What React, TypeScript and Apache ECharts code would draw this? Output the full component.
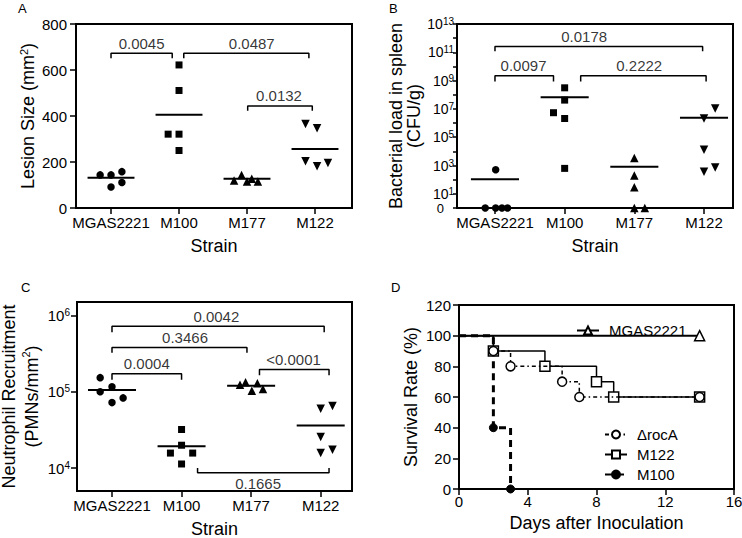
import React, { useEffect, useRef } from "react";
import * as echarts from "echarts";

const FONT = "'Liberation Sans', Arial, Helvetica, sans-serif";

// ---------- shared categories ----------
const STRAINS = ["MGAS2221", "M100", "M177", "M122"];

// ---------- Panel A: lesion size (mm²) ----------
const lesionValues = [
  [144, 144, 158, 91, 111],
  [622, 511, 321, 321, 250],
  [120, 144, 115, 127, 115],
  [365, 347, 203, 181, 196],
];
const lesionJitter = [
  [-0.16, 0, 0.16, 0, 0.16],
  [0, 0, -0.16, 0, 0],
  [-0.19, -0.08, 0, 0.07, 0.16],
  [-0.14, 0.03, -0.14, 0.03, 0.19],
];
const lesionMeans = [131, 405, 127, 256];
const lesionTicks = [0, 200, 400, 600, 800];
// [p-value, from, to, bracket y, tip y, label x]
const lesionComparisons: [string, number, number, number, number, number][] = [
  ["0.0045", 0, 0.9, 673, 651, 0.45],
  ["0.0487", 1.07, 2.91, 673, 651, 2.07],
  ["0.0132", 2.01, 2.96, 444, 423, 2.47],
];

// ---------- Panel B: bacterial load in spleen (CFU/g), 0 = below detection ----------
const spleenValues = [
  [510, 0, 0, 0, 0],
  [3.1e8, 4.2e7, 5.4e6, 2.1e6, 630],
  [3400, 195, 29, 0, 0],
  [1.05e7, 2.1e6, 13000, 740, 370],
];
const spleenJitter = [
  [0.01, -0.14, 0.01, 0.1, 0.18],
  [0, 0, -0.16, 0, 0],
  [0, 0, 0, 0, 0.15],
  [0.16, 0, 0, 0.16, 0],
];
const spleenMeans = [107, 6.7e7, 830, 2.4e6];
const spleenTickExponents = [0, 1, 2, 3, 4, 5, 6, 7, 8, 9, 10, 11, 12, 13];
const spleenLabelExponents = [1, 3, 5, 7, 9, 11, 13];
const spleenZeroLabel = [1]; // axis floor, labelled "0"
const spleenComparisons: [string, number, number, number, number, number][] = [
  ["0.0178", 0, 2.98, 2.6e11, 1.2e11, 1.28],
  ["0.0097", 0, 0.84, 2.2e9, 8.5e8, 0.41],
  ["0.2222", 1.23, 3.03, 2.2e9, 8.5e8, 2.07],
];

// ---------- Panel C: neutrophil recruitment (PMNs/mm²) ----------
const pmnValues = [
  [1.53e5, 1.16e5, 1.0e5, 7.2e4, 8.3e4],
  [3.2e4, 1.99e4, 1.57e4, 1.57e4, 1.13e4],
  [1.23e5, 1.33e5, 1.03e5, 1.29e5, 1.09e5],
  [6.0e4, 6.5e4, 2.56e4, 1.57e4, 1.74e4],
];
const pmnJitter = [
  [-0.17, 0, -0.17, 0, 0.16],
  [0, 0, -0.16, 0.16, 0],
  [-0.16, -0.08, 0.01, 0.09, 0.17],
  [0, 0.17, 0, 0, 0.17],
];
const pmnMeans = [1.05e5, 1.93e4, 1.2e5, 3.6e4];
const pmnTicks = [1e4, 1e5, 1e6];
const pmnComparisons: [string, number, number, number, number, number][] = [
  ["0.0042", 0, 3.05, 7.2e5, 6.0e5, 1.5],
  ["0.3466", 0, 1.94, 3.8e5, 3.25e5, 1.05],
  ["0.0004", 0, 1.0, 1.72e5, 1.44e5, 0.5],
  ["<0.0001", 2.12, 3.12, 1.95e5, 1.65e5, 2.61],
  ["0.1665", 1.23, 3.12, 8.7e3, 1.0e4, 2.1],
];

// ---------- Panel D: survival (%) vs days ----------
const survivalMGAS2221 = [[0, 100], [14, 100]];
const survivalRocA = [[0, 100], [2, 90], [3, 80], [6, 70], [7, 60], [14, 60]];
const survivalM122 = [[0, 100], [2, 90], [5, 80], [8, 70], [9, 60], [14, 60]];
const survivalM100 = [[0, 100], [2, 40], [3, 0]];
const dayTicks = [0, 4, 8, 12, 16];
const survivalTicks = [0, 20, 40, 60, 80, 100, 120];

// ---------- styling ----------
const MARKERS = ["circle", "rect", "triangle", "triangle"];
const MARKER_SIZE = [7.5, 7, 8.5, 8.5];
const MEAN_HALF = 0.345;
const BLACK = "#000";

function supLabel(e: number) {
  return `{b|10}{s|${e}}`;
}

function groupSeries(grid: number, values: number[][], jitter: number[][], means: number[], floor: number | null) {
  const out: any[] = [];
  values.forEach((vals, g) => {
    out.push({
      type: "line",
      xAxisIndex: grid,
      yAxisIndex: grid,
      symbol: "none",
      silent: true,
      z: 2,
      lineStyle: { color: BLACK, width: 2 },
      data: [[g - MEAN_HALF, means[g]], [g + MEAN_HALF, means[g]]],
    });
    out.push({
      type: "scatter",
      xAxisIndex: grid,
      yAxisIndex: grid,
      symbol: MARKERS[g],
      symbolRotate: g === 3 ? 180 : 0,
      symbolSize: MARKER_SIZE[g],
      itemStyle: { color: BLACK, opacity: 1 },
      z: 3,
      data: vals.map((v, k) => [g + jitter[g][k], floor !== null && v <= 0 ? floor : v]),
    });
  });
  return out;
}

function bracketSeries(grid: number, comps: [string, number, number, number, number, number][], below = -1) {
  const out: any[] = [];
  comps.forEach(([p, x1, x2, y, tip, lx], i) => {
    out.push({
      type: "line",
      xAxisIndex: grid,
      yAxisIndex: grid,
      symbol: "none",
      silent: true,
      z: 2,
      lineStyle: { color: BLACK, width: 1.5 },
      data: [[x1, tip], [x1, y], [x2, y], [x2, tip]],
    });
    out.push({
      type: "scatter",
      xAxisIndex: grid,
      yAxisIndex: grid,
      symbolSize: 1,
      silent: true,
      itemStyle: { color: "transparent" },
      label: {
        show: true,
        position: i === below ? "bottom" : "top",
        distance: i === below ? 3 : 2,
        formatter: p,
        color: BLACK,
        fontSize: 15,
        fontFamily: FONT,
      },
      data: [[lx, y]],
    });
  });
  return out;
}

const axisLine = { show: true, onZero: false, lineStyle: { color: BLACK, width: 2 } };
const tickStyle = { color: BLACK, width: 1.5 };
const nameStyle = {
  color: BLACK,
  fontSize: 18,
  fontFamily: FONT,
  lineHeight: 20,
  rich: {
    s: { fontSize: 11, fontFamily: FONT, color: BLACK, verticalAlign: "top", lineHeight: 12 },
  },
};
const labelRich = {
  b: { fontSize: 15, fontFamily: FONT, color: BLACK, lineHeight: 16 },
  s: { fontSize: 10, fontFamily: FONT, color: BLACK, verticalAlign: "top", lineHeight: 8 },
};
const spleenLabelRich = {
  b: { fontSize: 14, fontFamily: FONT, color: BLACK, lineHeight: 15 },
  s: { fontSize: 10, fontFamily: FONT, color: BLACK, verticalAlign: "top", lineHeight: 7 },
};

function strainXAxis(grid: number, min: number, max: number, nameGap: number) {
  return {
    type: "value",
    gridIndex: grid,
    min,
    max,
    axisLine,
    splitLine: { show: false },
    axisTick: { show: true, length: 6, lineStyle: tickStyle, customValues: [0, 1, 2, 3] },
    axisLabel: {
      customValues: [0, 1, 2, 3],
      formatter: (v: number) => STRAINS[Math.round(v)] ?? "",
      color: BLACK,
      fontSize: 15,
      fontFamily: FONT,
      margin: 7,
      hideOverlap: false,
    },
    name: "Strain",
    nameLocation: "middle",
    nameGap,
    nameTextStyle: nameStyle,
  };
}

export default function App() {
  const ref = useRef<HTMLDivElement>(null);
  useEffect(() => {
    if (!ref.current) return;
    const chart = echarts.init(ref.current, undefined, { renderer: "svg" });
    const gridCommon = { show: true, borderColor: BLACK, borderWidth: 2, backgroundColor: "transparent", containLabel: false, outerBoundsMode: "none" };
    const option: any = {
      animation: false,
      backgroundColor: "#fff",
      textStyle: { fontFamily: FONT },
      grid: [
        { ...gridCommon, left: 76, right: 390, top: 24, bottom: 330 },
        { ...gridCommon, left: 457, right: 9, top: 24, bottom: 330 },
        { ...gridCommon, left: 77, right: 390, top: 302, bottom: 47 },
        { ...gridCommon, left: 459, right: 8, top: 305, bottom: 49 },
      ],
      xAxis: [
        strainXAxis(0, -0.515, 3.544, 28),
        strainXAxis(1, -0.545, 3.416, 28),
        strainXAxis(2, -0.503, 3.45, 28),
        {
          type: "value",
          gridIndex: 3,
          min: 0,
          max: 16,
          interval: 4,
          axisLine,
          splitLine: { show: false },
          axisTick: { show: true, length: 6, lineStyle: tickStyle, customValues: dayTicks },
          axisLabel: { customValues: dayTicks, color: BLACK, fontSize: 15, fontFamily: FONT, margin: 5, hideOverlap: false },
          name: "Days after Inoculation",
          nameLocation: "middle",
          nameGap: 24,
          nameTextStyle: nameStyle,
        },
      ],
      yAxis: [
        {
          type: "value",
          gridIndex: 0,
          min: 0,
          max: 800,
          interval: 200,
          axisLine,
          splitLine: { show: false },
          axisTick: { show: true, length: 6, lineStyle: tickStyle, customValues: lesionTicks },
          axisLabel: { customValues: lesionTicks, color: BLACK, fontSize: 15, fontFamily: FONT, margin: 9, hideOverlap: false },
          name: "Lesion Size (mm{s|2})",
          nameLocation: "middle",
          nameRotate: 90,
          nameGap: 36,
          nameTextStyle: nameStyle,
        },
        {
          type: "log",
          logBase: 10,
          gridIndex: 1,
          min: 1,
          max: 1e13,
          axisLine,
          splitLine: { show: false },
          axisTick: { show: true, length: 4, lineStyle: tickStyle, customValues: spleenTickExponents.map((e) => Math.pow(10, e)) },
          axisLabel: {
            customValues: spleenLabelExponents.map((e) => Math.pow(10, e)),
            formatter: (v: number) => supLabel(Math.round(Math.log10(v))),
            color: BLACK,
            fontSize: 14,
            fontFamily: FONT,
            margin: 3,
            rich: spleenLabelRich,
            hideOverlap: false,
          },
          name: "Bacterial load in spleen\n(CFU/g)",
          nameLocation: "middle",
          nameRotate: 90,
          nameGap: 30,
          nameTextStyle: { ...nameStyle, lineHeight: 18 },
        },
        {
          type: "log",
          logBase: 10,
          gridIndex: 2,
          min: 5000,
          max: 1.5e6,
          axisLine,
          splitLine: { show: false },
          axisTick: { show: true, length: 6, lineStyle: tickStyle, customValues: pmnTicks },
          axisLabel: {
            customValues: pmnTicks,
            formatter: (v: number) => supLabel(Math.round(Math.log10(v))),
            color: BLACK,
            fontSize: 15,
            fontFamily: FONT,
            margin: 7,
            rich: labelRich,
            hideOverlap: false,
          },
          name: "Neutrophil Recruitment\n(PMNs/mm{s|2})",
          nameLocation: "middle",
          nameRotate: 90,
          nameGap: 32,
          nameTextStyle: { ...nameStyle, lineHeight: 23 },
        },
        {
          type: "value",
          gridIndex: 3,
          min: 0,
          max: 120,
          interval: 20,
          axisLine,
          splitLine: { show: false },
          axisTick: { show: true, length: 6, lineStyle: tickStyle, customValues: survivalTicks },
          axisLabel: { customValues: survivalTicks, color: BLACK, fontSize: 15, fontFamily: FONT, margin: 8, hideOverlap: false },
          name: "Survival Rate (%)",
          nameLocation: "middle",
          nameRotate: 90,
          nameGap: 38,
          nameTextStyle: nameStyle,
        },
        {
          // companion axis of panel B carrying only the "0" label at the axis floor
          type: "log",
          logBase: 10,
          gridIndex: 1,
          position: "left",
          offset: 0,
          min: 1,
          max: 1e13,
          axisLine: { show: false },
          axisTick: { show: false },
          splitLine: { show: false },
          axisLabel: {
            customValues: spleenZeroLabel,
            formatter: () => "0",
            color: BLACK,
            fontSize: 13,
            lineHeight: 13,
            fontFamily: FONT,
            margin: 13,
            showMinLabel: true,
            hideOverlap: false,
          },
        },
      ],
      legend: [
        {
          data: ["MGAS2221"],
          left: 576,
          top: 323,
          padding: 0,
          itemWidth: 22,
          itemHeight: 10,
          selectedMode: false,
          textStyle: { color: BLACK, fontSize: 15, fontFamily: FONT, padding: [0, 0, 0, 5] },
        },
        {
          data: ["\u0394rocA", "M122", "M100"],
          orient: "vertical",
          left: 604,
          top: 427,
          padding: 0,
          itemGap: 5,
          itemWidth: 22,
          itemHeight: 10,
          selectedMode: false,
          textStyle: { color: BLACK, fontSize: 15, fontFamily: FONT, padding: [0, 0, 0, 5] },
        },
      ],
      series: [
        ...groupSeries(0, lesionValues, lesionJitter, lesionMeans, null),
        ...bracketSeries(0, lesionComparisons),
        ...groupSeries(1, spleenValues, spleenJitter, spleenMeans, 1),
        ...bracketSeries(1, spleenComparisons),
        ...groupSeries(2, pmnValues, pmnJitter, pmnMeans, null),
        ...bracketSeries(2, pmnComparisons, 4),
        {
          type: "line",
          name: "M100",
          xAxisIndex: 3,
          yAxisIndex: 3,
          step: "end",
          symbol: "circle",
          symbolSize: 8,
          itemStyle: { color: BLACK, borderColor: BLACK, borderWidth: 1 },
          lineStyle: { color: BLACK, width: 3, type: [7, 5] },
          data: survivalM100.map((p, i) => (i === 0 ? { value: p, symbol: "none" } : p)),
          z: 2,
        },
        {
          type: "line",
          name: "M122",
          xAxisIndex: 3,
          yAxisIndex: 3,
          step: "end",
          symbol: "rect",
          symbolSize: 10,
          itemStyle: { color: "#fff", borderColor: BLACK, borderWidth: 1.5 },
          lineStyle: { color: BLACK, width: 1.5 },
          data: survivalM122.map((p, i) => (i === 0 ? { value: p, symbol: "none" } : p)),
          z: 3,
        },
        {
          type: "line",
          name: "\u0394rocA",
          xAxisIndex: 3,
          yAxisIndex: 3,
          step: "end",
          symbol: "circle",
          symbolSize: 9,
          itemStyle: { color: "#fff", borderColor: BLACK, borderWidth: 1.5 },
          lineStyle: { color: BLACK, width: 1.5, type: [4, 3, 1.5, 3] },
          data: survivalRocA.map((p, i) => (i === 0 ? { value: p, symbol: "none" } : p)),
          z: 4,
        },
        {
          type: "line",
          name: "MGAS2221",
          xAxisIndex: 3,
          yAxisIndex: 3,
          step: "end",
          symbol: "triangle",
          symbolSize: 10,
          itemStyle: { color: "#fff", borderColor: BLACK, borderWidth: 1.5 },
          lineStyle: { color: BLACK, width: 2 },
          data: survivalMGAS2221.map((p, i) => (i === 0 ? { value: p, symbol: "none" } : p)),
          z: 5,
        },
      ],
      graphic: [
        { type: "text", left: 18, top: 2, style: { text: "A", fontSize: 13, fontFamily: FONT, fill: BLACK } },
        { type: "text", left: 389, top: 2, style: { text: "B", fontSize: 13, fontFamily: FONT, fill: BLACK } },
        { type: "text", left: 21, top: 281, style: { text: "C", fontSize: 13, fontFamily: FONT, fill: BLACK } },
        { type: "text", left: 391, top: 281, style: { text: "D", fontSize: 13, fontFamily: FONT, fill: BLACK } },
      ],
    };
    chart.setOption(option);
    return () => chart.dispose();
  }, []);
  return (
    <div
      ref={ref}
      style={{ position: "fixed", left: 0, top: 0, width: 742, height: 538, background: "#fff" }}
    />
  );
}
